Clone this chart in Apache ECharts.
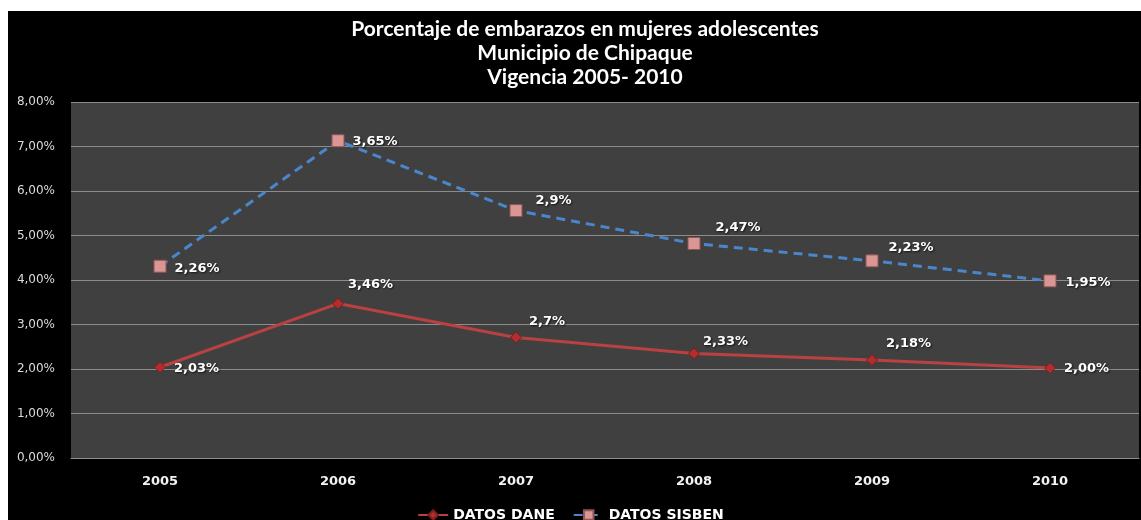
<!DOCTYPE html>
<html>
<head>
<meta charset="utf-8">
<script src="https://cdn.jsdelivr.net/npm/echarts@6/dist/echarts.min.js"></script>
<style>
  html, body { margin: 0; padding: 0; background: #fff; }
  #chart { width: 1141px; height: 520px; }
</style>
</head>
<body>
<div id="chart"></div>
<script>
  // datos
  var years = ['2005', '2006', '2007', '2008', '2009', '2010'];
  var daneValues = [2.04, 3.47, 2.71, 2.35, 2.20, 2.02];
  var daneLabels = ['2,03%', '3,46%', '2,7%', '2,33%', '2,18%', '2,00%'];
  var sisbenValues = [4.31, 7.13, 5.56, 4.82, 4.43, 3.98];
  var sisbenLabels = ['2,26%', '3,65%', '2,9%', '2,47%', '2,23%', '1,95%'];
  var yTicks = [0, 1, 2, 3, 4, 5, 6, 7, 8];

  // desplazamiento de cada etiqueta respecto al punto
  var daneOffsets = [[8, 1], [4, -19], [7, -16], [3, -12], [8, -16], [8, 1]];
  var sisbenOffsets = [[8, 2], [8, 1], [13, -10], [15, -16], [10, -13], [9, 2]];

  function withLabels(values, labels, offsets) {
    return values.map(function(v, i) {
      return {
        value: v,
        label: { offset: offsets[i], formatter: labels[i] }
      };
    });
  }

  var labelStyle = {
    show: true,
    position: 'right',
    distance: 0,
    color: '#ffffff',
    fontFamily: 'DejaVu Sans',
    fontWeight: 'bold',
    fontSize: 13,
    textShadowColor: 'rgba(0,0,0,0.7)',
    textShadowBlur: 2,
    textShadowOffsetX: 1,
    textShadowOffsetY: 1
  };

  var chart = echarts.init(document.getElementById('chart'));
  chart.setOption({
    backgroundColor: '#000000',
    animation: false,
    graphic: [
      { type: 'rect', shape: { x: 0, y: 0, width: 1141, height: 11 }, style: { fill: '#ffffff' } },
      { type: 'rect', shape: { x: 0, y: 0, width: 8, height: 520 }, style: { fill: '#ffffff' } }
    ],
    // titulo
    title: {
      text: 'Porcentaje de embarazos en mujeres adolescentes\nMunicipio de Chipaque\nVigencia 2005- 2010',
      left: 580,
      textAlign: 'center',
      top: 12,
      textStyle: {
        color: '#ffffff',
        fontFamily: 'Lato',
        fontWeight: 'bold',
        fontSize: 21,
        lineHeight: 24
      }
    },
    // leyenda
    legend: {
      top: 503,
      left: 'center',
      itemWidth: 30,
      itemHeight: 12,
      itemGap: 18,
      textStyle: {
        color: '#ffffff',
        fontFamily: 'DejaVu Sans',
        fontWeight: 'bold',
        fontSize: 14
      },
      data: ['DATOS DANE', 'DATOS SISBEN']
    },
    grid: {
      left: 71,
      right: 2,
      top: 102,
      bottom: 62,
      show: true,
      backgroundColor: '#404040',
      borderWidth: 0
    },
    xAxis: {
      type: 'category',
      data: years,
      boundaryGap: true,
      axisLine: { lineStyle: { color: '#8c8c8c' } },
      axisTick: { show: false },
      axisLabel: {
        color: '#f2f2f2',
        fontFamily: 'DejaVu Sans',
        fontWeight: 'bold',
        fontSize: 13,
        margin: 17
      }
    },
    yAxis: {
      type: 'value',
      min: yTicks[0],
      max: yTicks[yTicks.length - 1],
      interval: 1,
      axisLine: { show: false },
      axisTick: { show: false },
      splitLine: { lineStyle: { color: '#8c8c8c', width: 1 } },
      axisLabel: {
        color: '#dcdcdc',
        fontFamily: 'DejaVu Sans',
        fontSize: 12,
        margin: 16,
        formatter: function(v) {
          return v.toFixed(2).replace('.', ',') + '%';
        }
      }
    },
    series: [{
      name: 'DATOS DANE',
      type: 'line',
      data: withLabels(daneValues, daneLabels, daneOffsets),
      symbol: 'diamond',
      symbolSize: 11,
      itemStyle: { color: '#b02e2e', borderColor: '#7a1e1e', borderWidth: 1 },
      lineStyle: { color: '#b94141', width: 3 },
      label: labelStyle,
      z: 3
    }, {
      name: 'DATOS SISBEN',
      type: 'line',
      data: withLabels(sisbenValues, sisbenLabels, sisbenOffsets),
      symbol: 'rect',
      symbolSize: 12,
      itemStyle: { color: '#d99694', borderColor: '#8e5553', borderWidth: 1 },
      lineStyle: { color: '#4a86cc', width: 3, type: [9, 6] },
      label: labelStyle,
      z: 4
    }]
  });
</script>
</body>
</html>
